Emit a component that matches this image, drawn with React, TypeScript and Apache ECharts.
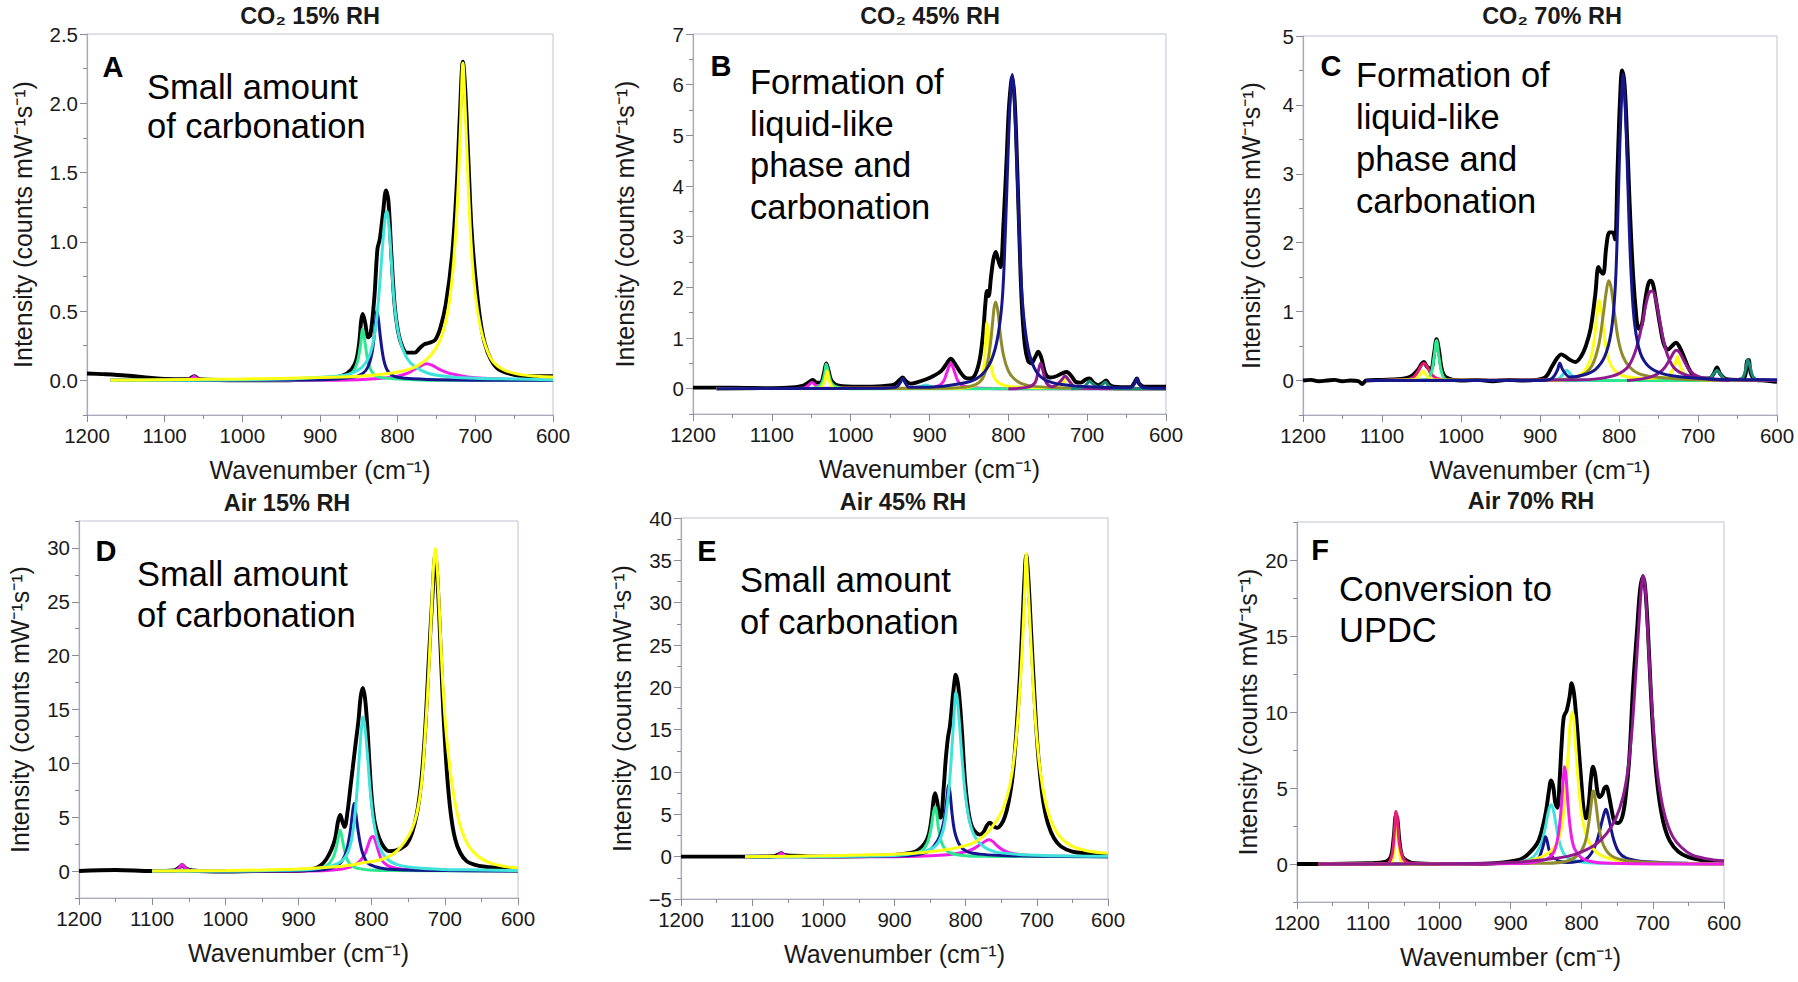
import React, { useEffect, useRef } from "react";
import * as echarts from "echarts";

const FONT = "'Liberation Sans', Arial, Helvetica, sans-serif";

// ---------- colours ----------
const COL = {
  black: "#000000",
  yellow: "#ffff14",
  cyan: "#3fe3dc",
  navy: "#16168c",
  green: "#2ee890",
  magenta: "#f01ee6",
  olive: "#8f8a2c",
  purple: "#8e1a8e",
  teal: "#1a8a78",
  red: "#e61e78",
};

// ---------- axis ticks ----------
const xMin = 600;
const xMax = 1200;
const A_yLabels = [0, 0.5, 1.0, 1.5, 2.0, 2.5];
const A_yMinor = [-0.25, 0.25, 0.75, 1.25, 1.75, 2.25];
const B_yLabels = [0, 1, 2, 3, 4, 5, 6, 7];
const B_yMinor = [-0.5, 0.5, 1.5, 2.5, 3.5, 4.5, 5.5, 6.5];
const C_yLabels = [0, 1, 2, 3, 4, 5];
const C_yMinor = [-0.5, 0.5, 1.5, 2.5, 3.5, 4.5];
const D_yLabels = [0, 5, 10, 15, 20, 25, 30];
const D_yMinor = [-2.5, 2.5, 7.5, 12.5, 17.5, 22.5, 27.5, 32.5];
const E_yLabels = [-5, 0, 5, 10, 15, 20, 25, 30, 35, 40];
const E_yMinor = [-2.5, 2.5, 7.5, 12.5, 17.5, 22.5, 27.5, 32.5, 37.5];
const F_yLabels = [0, 5, 10, 15, 20];
const F_yMinor = [-2.5, 2.5, 7.5, 12.5, 17.5, 22.5];

// ---------- Panel A : CO2 15% RH ----------
const A_black = [[1200,0.05],[1180,0.045],[1150,0.035],[1120,0.02],[1100,0.01],[1070,0.008],[1062,0.03],[1055,0.008],[1000,0.0],[950,0.0],[900,0.01],[880,0.02],[865,0.05],[855,0.12],[850,0.25],[847,0.43],[845,0.48],[842,0.42],[838,0.31],[835,0.33],[830,0.6],[826,0.95],[823,1.02],[819,1.2],[815,1.37],[812,1.3],[808,0.9],[804,0.55],[800,0.37],[795,0.26],[788,0.2],[778,0.2],[772,0.23],[766,0.26],[760,0.27],[752,0.29],[745,0.38],[738,0.55],[730,0.9],[724,1.4],[720,1.9],[716,2.3],[713,2.1],[709,1.6],[705,1.1],[700,0.75],[694,0.45],[688,0.27],[680,0.15],[670,0.08],[650,0.04],[630,0.03],[600,0.03]];
const A_magenta = [[1170,0],[1075,0],[1066,0.012],[1062,0.03],[1058,0.012],[1050,0],[900,0],[850,0.005],[820,0.015],[800,0.03],[788,0.05],[778,0.08],[770,0.105],[763,0.12],[756,0.11],[748,0.085],[738,0.06],[725,0.04],[710,0.025],[690,0.015],[660,0.008],[630,0.005],[605,0.005]];
const A_green = [[1170,0],[900,0.005],[870,0.02],[858,0.06],[852,0.13],[848,0.25],[845,0.37],[842,0.27],[838,0.13],[833,0.06],[825,0.025],[800,0.01],[750,0],[600,0]];
const A_navy = [[1170,0],[900,0.005],[860,0.02],[845,0.05],[838,0.1],[833,0.2],[830,0.33],[828,0.45],[827,0.5],[825,0.45],[822,0.3],[818,0.15],[813,0.07],[805,0.03],[790,0.015],[750,0.005],[650,0],[600,0]];
const A_cyan = [[1170,0],[950,0.01],[880,0.03],[860,0.05],[845,0.1],[835,0.2],[828,0.4],[823,0.7],[819,1.0],[816,1.18],[814,1.22],[811,1.1],[808,0.85],[805,0.6],[801,0.4],[796,0.27],[788,0.16],[778,0.1],[760,0.05],[730,0.025],[700,0.015],[650,0.01],[600,0.005]];
const A_yellow = [[1170,0],[1100,0.005],[1000,0.01],[900,0.02],[850,0.03],[820,0.045],[800,0.06],[780,0.09],[765,0.14],[752,0.22],[742,0.34],[734,0.55],[728,0.85],[723,1.3],[719,1.85],[716,2.29],[713,1.95],[709,1.4],[705,0.95],[700,0.62],[694,0.4],[687,0.25],[678,0.14],[665,0.08],[645,0.045],[620,0.03],[600,0.025]];

// ---------- Panel B : CO2 45% RH ----------
const B_black = [[1200,0.02],[1150,0.02],[1100,0.01],[1070,0.03],[1060,0.06],[1052,0.14],[1048,0.17],[1043,0.12],[1038,0.12],[1034,0.3],[1031,0.5],[1028,0.35],[1024,0.15],[1015,0.06],[990,0.04],[960,0.05],[945,0.08],[938,0.17],[934,0.22],[930,0.15],[924,0.1],[915,0.13],[905,0.18],[895,0.25],[885,0.35],[878,0.5],[873,0.59],[868,0.5],[862,0.35],[855,0.22],[848,0.2],[842,0.28],[836,0.6],[832,1.1],[829,1.7],[827,1.93],[825,1.83],[822,2.2],[819,2.55],[816,2.7],[813,2.55],[810,2.4],[806,3.3],[802,4.6],[799,5.6],[795,6.15],[792,5.7],[789,4.5],[786,3.0],[783,1.7],[779,0.85],[775,0.55],[771,0.5],[766,0.62],[762,0.73],[758,0.6],[753,0.3],[747,0.22],[740,0.24],[732,0.3],[726,0.33],[720,0.25],[714,0.13],[708,0.12],[702,0.18],[697,0.2],[692,0.12],[686,0.07],[680,0.12],[676,0.16],[672,0.08],[666,0.04],[645,0.03],[640,0.12],[637,0.2],[634,0.1],[628,0.04],[600,0.04]];
const B_magenta = [[1170,0],[1060,0.01],[1054,0.06],[1049,0.12],[1044,0.06],[1038,0.01],[900,0.01],[888,0.06],[882,0.15],[878,0.32],[875,0.45],[873,0.5],[871,0.45],[868,0.32],[864,0.15],[858,0.06],[845,0.02],[800,0],[600,0]];
const B_green = [[1170,0],[1045,0.01],[1037,0.1],[1033,0.3],[1031,0.48],[1028,0.3],[1024,0.1],[1015,0.02],[1000,0],[600,0]];
const B_cyan = [[930,0],[912,0.04],[905,0.07],[898,0.04],[885,0]];
const B_yellow = [[1170,0],[1040,0.01],[1033,0.15],[1030,0.35],[1027,0.15],[1020,0.01],[860,0.01],[845,0.05],[836,0.15],[831,0.45],[829,0.9],[827,1.31],[825,1.05],[823,0.6],[820,0.3],[815,0.15],[808,0.08],[795,0.04],[760,0.02],[735,0.05],[729,0.15],[726,0.22],[723,0.15],[716,0.04],[700,0.01],[600,0]];
const B_olive = [[1170,0],[880,0.01],[850,0.04],[835,0.15],[828,0.4],[823,0.85],[820,1.3],[818,1.6],[816,1.71],[813,1.5],[810,1.05],[806,0.65],[800,0.35],[793,0.2],[783,0.1],[770,0.05],[740,0.02],[700,0.01],[600,0]];
const B_purple = [[800,0],[775,0.03],[766,0.12],[762,0.35],[759,0.5],[756,0.35],[752,0.12],[745,0.04],[738,0.08],[732,0.18],[728,0.25],[724,0.18],[718,0.06],[710,0.01],[600,0]];
const B_teal = [[720,0],[705,0.03],[700,0.1],[697,0.15],[693,0.1],[686,0.03],[681,0.08],[677,0.13],[673,0.06],[665,0],[600,0]];
const B_navy = [[1170,0],[960,0.01],[942,0.03],[937,0.12],[934,0.2],[931,0.12],[926,0.03],[900,0.03],[860,0.1],[840,0.2],[825,0.45],[815,0.9],[808,1.7],[804,3.0],[800,4.8],[797,5.9],[795,6.2],[793,5.9],[790,4.8],[786,3.0],[782,1.7],[775,0.8],[765,0.35],[750,0.15],[720,0.06],[680,0.03],[645,0.02],[640,0.1],[637,0.2],[634,0.1],[629,0.02],[600,0.01]];

// ---------- Panel C : CO2 70% RH ----------
const C_black = [[1200,0.0],[1190,0.01],[1180,-0.01],[1170,0.0],[1160,0.01],[1150,-0.01],[1140,0.0],[1130,-0.01],[1125,-0.05],[1120,0.0],[1100,0.01],[1080,0.02],[1065,0.05],[1055,0.15],[1050,0.24],[1047,0.27],[1043,0.2],[1038,0.17],[1034,0.4],[1031,0.6],[1028,0.45],[1024,0.15],[1018,0.04],[1000,0.0],[980,0.01],[960,-0.01],[940,0.01],[920,0.0],[905,0.01],[893,0.05],[885,0.2],[878,0.33],[873,0.38],[868,0.35],[862,0.3],[855,0.27],[848,0.35],[842,0.5],[836,0.75],[830,1.25],[826,1.65],[823,1.58],[820,1.55],[816,1.95],[812,2.15],[808,2.15],[805,2.05],[802,3.0],[799,4.0],[796,4.5],[793,4.3],[790,3.6],[787,2.7],[783,1.7],[779,1.05],[775,0.75],[771,0.82],[767,1.15],[763,1.4],[760,1.45],[757,1.4],[753,1.15],[748,0.8],[743,0.52],[738,0.45],[733,0.5],[728,0.55],[724,0.5],[718,0.35],[712,0.18],[706,0.08],[698,0.04],[686,0.03],[680,0.1],[676,0.19],[672,0.1],[664,0.02],[650,0.01],[641,0.05],[638,0.28],[636,0.3],[633,0.1],[627,0.01],[615,0.0],[600,-0.02]];
const C_teal = [[1120,0],[700,0],[686,0.02],[680,0.1],[676,0.15],[672,0.1],[666,0.02],[650,0],[643,0.05],[639,0.2],[637,0.3],[634,0.2],[630,0.05],[620,0],[600,0]];
const C_red = [[1120,0],[1070,0.01],[1060,0.05],[1054,0.14],[1050,0.22],[1047,0.25],[1043,0.2],[1038,0.1],[1030,0.03],[1015,0],[600,0]];
const C_green = [[1120,0],[1045,0.01],[1038,0.1],[1034,0.35],[1031,0.58],[1028,0.35],[1024,0.1],[1018,0.01],[1000,0],[600,0]];
const C_cyan = [[900,0],[878,0.02],[870,0.1],[866,0.15],[862,0.1],[855,0.02],[840,0]];
const C_yellow = [[1120,0],[1060,0.01],[1052,0.08],[1048,0.14],[1044,0.08],[1036,0.01],[880,0],[850,0.08],[838,0.25],[832,0.55],[828,0.95],[825,1.16],[822,1.0],[818,0.6],[813,0.3],[806,0.15],[795,0.07],[770,0.03],[740,0.05],[730,0.2],[726,0.35],[722,0.2],[714,0.05],[700,0.01],[600,0]];
const C_olive = [[1120,0],[880,0.01],[850,0.06],[835,0.2],[826,0.5],[820,0.95],[816,1.3],[813,1.45],[810,1.35],[806,1.0],[801,0.6],[795,0.35],[787,0.2],[775,0.1],[755,0.05],[720,0.02],[600,0]];
const C_purple = [[1120,0],[850,0.01],[810,0.06],[790,0.18],[780,0.4],[772,0.75],[766,1.1],[762,1.27],[758,1.3],[754,1.2],[749,0.9],[744,0.6],[738,0.35],[730,0.18],[715,0.08],[690,0.03],[650,0.01],[600,0]];
const C_magenta = [[790,0],[760,0.05],[745,0.15],[736,0.3],[730,0.42],[727,0.44],[723,0.4],[717,0.27],[710,0.14],[700,0.06],[685,0.02],[660,0.0]];
const C_navy = [[1120,0],[900,0.0],[885,0.03],[878,0.15],[875,0.25],[871,0.15],[862,0.05],[845,0.08],[830,0.16],[818,0.35],[810,0.7],[805,1.3],[802,2.2],[799,3.4],[796,4.3],[795,4.45],[793,4.2],[790,3.3],[787,2.2],[784,1.4],[780,0.8],[773,0.4],[762,0.2],[745,0.1],[720,0.05],[680,0.02],[600,0.01]];

// ---------- Panel D : Air 15% RH ----------
const D_black = [[1200,0.0],[1150,0.1],[1100,0.0],[1070,0.05],[1062,0.4],[1059,0.55],[1055,0.3],[1045,0.05],[1000,-0.05],[950,0.0],[900,0.0],[880,0.2],[870,0.5],[862,1.1],[855,2.0],[850,3.0],[846,4.6],[843,5.2],[840,4.6],[837,4.1],[833,5.5],[829,7.8],[826,9.5],[822,11.8],[818,14.0],[815,16.2],[812,17.0],[809,16.0],[806,13.5],[803,10.0],[800,6.9],[796,4.6],[790,3.1],[783,2.2],[776,1.85],[768,1.9],[760,2.1],[752,2.5],[745,3.5],[738,5.4],[732,8.5],[727,13.0],[722,19.5],[717,25.5],[713,29.3],[710,27.0],[706,21.0],[702,14.7],[697,9.0],[692,5.4],[686,3.0],[679,1.7],[670,0.9],[660,0.6],[645,0.4],[620,0.25],[600,0.2]];
const D_magenta = [[1100,0],[1070,0],[1063,0.3],[1059,0.6],[1055,0.3],[1045,0],[900,0],[840,0.2],[820,0.7],[810,1.5],[805,2.4],[801,3.1],[798,3.2],[795,2.8],[791,1.9],[786,1.0],[778,0.5],[765,0.25],[740,0.1],[700,0.05],[600,0.0]];
const D_green = [[1100,0],[880,0.1],[862,0.5],[853,1.2],[848,2.3],[845,3.3],[843,3.8],[841,3.3],[838,2.2],[833,1.0],[825,0.4],[810,0.15],[780,0.05],[600,0]];
const D_navy = [[1100,0],[880,0.05],[850,0.4],[840,1.0],[834,2.0],[829,3.8],[826,5.5],[824,6.3],[822,5.5],[818,3.5],[813,1.8],[806,0.8],[795,0.4],[780,0.2],[750,0.1],[700,0.05],[600,0]];
const D_cyan = [[1100,0],[900,0.1],[860,0.4],[840,1.0],[830,2.2],[824,4.5],[820,7.5],[816,11.5],[813,14.0],[812,14.3],[810,13.8],[806,11.0],[802,7.5],[797,4.5],[790,2.4],[780,1.2],[765,0.6],[740,0.3],[700,0.15],[650,0.1],[600,0.05]];
const D_yellow = [[1100,0],[1000,0.05],[950,0.1],[900,0.2],[870,0.3],[850,0.4],[830,0.55],[810,0.8],[790,1.0],[775,1.4],[765,1.9],[755,2.7],[745,3.9],[738,5.4],[732,8.0],[727,12.5],[722,18.5],[718,24.5],[715,28.8],[713,30.0],[711,28.8],[708,25.0],[704,19.0],[699,13.5],[693,9.5],[686,6.3],[678,4.0],[668,2.4],[655,1.4],[640,0.8],[620,0.45],[600,0.3]];

// ---------- Panel E : Air 45% RH ----------
const E_black = [[1200,0],[1150,0],[1110,0],[1070,0.05],[1062,0.3],[1059,0.4],[1055,0.2],[1045,0.1],[1000,0.0],[950,0.05],[900,0.2],[880,0.4],[868,0.7],[858,1.5],[852,2.6],[848,4.5],[845,6.8],[843,7.5],[840,6.5],[837,4.7],[835,4.6],[831,8.0],[828,11.5],[825,14.0],[822,15.5],[818,19.0],[815,21.2],[814,21.5],[811,20.5],[808,18.0],[805,14.5],[801,9.1],[796,5.3],[791,3.5],[785,2.8],[780,2.6],[775,2.9],[770,3.7],[766,4.0],[761,3.6],[756,3.4],[750,3.8],[745,4.7],[740,6.3],[734,9.5],[729,14.5],[724,21.0],[720,28.0],[717,33.5],[715,35.6],[712,33.0],[708,26.5],[704,20.0],[699,13.0],[694,8.5],[690,6.0],[684,3.8],[676,2.2],[666,1.2],[650,0.6],[630,0.4],[600,0.25]];
const E_magenta = [[1110,0],[1066,0],[1062,0.25],[1059,0.4],[1056,0.25],[1050,0],[900,0],[830,0.2],[805,0.5],[790,0.9],[780,1.4],[772,1.85],[767,2.0],[762,1.8],[756,1.3],[748,0.8],[738,0.45],[720,0.2],[690,0.08],[650,0.03],[600,0]];
const E_green = [[1110,0],[880,0.2],[862,0.7],[854,1.6],[849,3.2],[845,5.3],[843,5.9],[841,5.3],[838,3.2],[833,1.5],[825,0.6],[810,0.2],[780,0.05],[600,0]];
const E_navy = [[1110,0],[880,0.1],[855,0.5],[845,1.2],[836,2.5],[830,4.5],[826,7.2],[824,8.5],[822,7.6],[819,5.0],[815,2.8],[808,1.3],[798,0.6],[780,0.3],[750,0.15],[700,0.05],[600,0]];
const E_cyan = [[1110,0],[900,0.15],[860,0.6],[842,1.3],[832,3.0],[826,6.0],[822,9.5],[818,14.5],[815,18.5],[814,19.4],[812,18.8],[809,16.0],[805,11.5],[800,7.0],[794,4.0],[786,2.2],[775,1.2],[760,0.6],[730,0.3],[690,0.15],[600,0.05]];
const E_yellow = [[1110,0],[1000,0.1],[950,0.2],[900,0.3],[860,0.5],[830,0.8],[810,1.1],[790,1.6],[775,2.4],[762,3.6],[750,5.2],[742,7.0],[735,9.8],[729,14.0],[724,19.5],[720,25.5],[717,31.5],[715,35.8],[713,33.0],[710,28.0],[706,21.5],[701,15.0],[695,10.0],[688,6.5],[680,4.2],[668,2.4],[652,1.3],[630,0.7],[600,0.4]];

// ---------- Panel F : Air 70% RH ----------
const F_black = [[1200,0],[1180,0.0],[1170,0.0],[1100,0.05],[1075,0.15],[1068,0.5],[1064,1.8],[1061,3.2],[1059,3.0],[1056,1.5],[1052,0.5],[1045,0.2],[1035,0.05],[1000,0.0],[950,0.0],[910,0.1],[890,0.25],[882,0.4],[872,0.8],[862,1.4],[856,2.2],[850,3.5],[846,4.8],[843,5.5],[840,5.1],[837,4.0],[834,3.7],[831,5.5],[828,8.0],[825,9.7],[821,10.1],[817,11.0],[814,11.9],[811,11.3],[808,9.9],[804,7.5],[800,5.1],[797,3.5],[794,3.0],[790,4.0],[787,5.6],[784,6.4],[781,5.9],[778,4.8],[775,4.4],[771,4.6],[768,5.0],[765,5.1],[762,4.6],[758,3.6],[754,2.8],[749,2.7],[743,3.1],[738,4.5],[733,7.0],[728,11.5],[722,15.5],[718,18.0],[714,18.9],[711,18.3],[707,15.5],[703,11.5],[698,7.5],[692,4.6],[685,2.7],[676,1.5],[664,0.8],[650,0.45],[630,0.25],[600,0.15]];
const F_yellow = [[1170,0],[1070,0],[1064,0.8],[1061,2.6],[1059,2.5],[1056,0.8],[1050,0],[900,0.05],[860,0.4],[840,1.0],[830,2.0],[824,4.0],[819,7.2],[816,9.3],[813,10.0],[811,9.5],[808,7.5],[804,5.0],[799,3.0],[792,1.7],[782,0.9],[770,0.5],[750,0.25],[720,0.1],[680,0.05],[600,0]];
const F_red = [[1170,0],[1075,0],[1067,0.5],[1063,2.2],[1061,3.45],[1059,3.0],[1056,1.3],[1050,0.3],[1040,0.05],[1000,0]];
const F_cyan = [[1170,0],[900,0.05],[870,0.4],[858,1.2],[851,2.4],[847,3.4],[843,3.9],[840,3.6],[836,2.6],[831,1.4],[824,0.6],[812,0.25],[795,0.1],[760,0.05],[600,0]];
const F_magenta = [[1000,0],[880,0.05],[850,0.3],[840,0.7],[834,1.6],[830,3.0],[827,4.8],[825,6.1],[824,6.4],[822,5.8],[819,3.8],[815,2.0],[810,1.0],[800,0.4],[785,0.15],[760,0.05],[700,0],[600,0]];
const F_olive = [[1170,0],[850,0.05],[820,0.2],[805,0.6],[796,1.3],[791,2.4],[787,3.8],[785,4.6],[784,4.8],[782,4.6],[779,3.6],[775,2.2],[769,1.2],[760,0.6],[745,0.3],[720,0.15],[680,0.05],[600,0]];
const F_navy = [[1170,0],[880,0.05],[862,0.3],[856,0.9],[852,1.6],[851,1.8],[849,1.6],[845,0.8],[840,0.4],[836,0.35],[833,0.2],[820,0.1],[795,0.3],[785,0.8],[778,1.6],[772,2.7],[768,3.4],[766,3.6],[764,3.4],[760,2.6],[755,1.6],[748,0.8],[738,0.4],[720,0.2],[690,0.1],[650,0.05],[600,0.03]];
const F_purple = [[1170,0],[1000,0.02],[900,0.1],[850,0.3],[820,0.5],[800,0.8],[780,1.3],[765,2.0],[752,3.0],[742,4.4],[735,6.2],[729,9.0],[724,12.5],[720,15.5],[716,18.3],[714,19.0],[711,18.3],[708,16.0],[704,12.5],[700,9.5],[695,6.6],[689,4.5],[682,3.0],[672,1.8],[660,1.1],[645,0.6],[625,0.35],[600,0.2]];

type Curve = [number[][], string];

interface Panel {
  title: string;
  letter: string;
  note: string;
  grid: { left: number; top: number; width: number; height: number };
  yMin: number;
  yMax: number;
  yLabels: number[];
  yMinor: number[];
  decimals: number;
  yNameGap: number;
  titlePos: [number, number];
  letterPos: [number, number];
  notePos: [number, number];
  noteSize: number;
  noteLH: number;
  curves: Curve[];
}

const panels: Panel[] = [
  {
    title: "CO\u2082 15% RH", letter: "A", note: "Small amount\nof carbonation",
    grid: { left: 87, top: 34, width: 466, height: 381 },
    yMin: -0.25, yMax: 2.5, yLabels: A_yLabels, yMinor: A_yMinor, decimals: 1, yNameGap: 52,
    titlePos: [310, 16], letterPos: [113, 67], notePos: [147, 67], noteSize: 34.5, noteLH: 39.5,
    curves: [[A_black, COL.black], [A_magenta, COL.magenta], [A_green, COL.green], [A_navy, COL.navy], [A_cyan, COL.cyan], [A_yellow, COL.yellow]],
  },
  {
    title: "CO\u2082 45% RH", letter: "B", note: "Formation of\nliquid-like\nphase and\ncarbonation",
    grid: { left: 693, top: 34, width: 473, height: 380 },
    yMin: -0.5, yMax: 7, yLabels: B_yLabels, yMinor: B_yMinor, decimals: 0, yNameGap: 56,
    titlePos: [930, 16], letterPos: [721, 66], notePos: [750, 61], noteSize: 34.5, noteLH: 41.7,
    curves: [[B_black, COL.black], [B_magenta, COL.magenta], [B_green, COL.green], [B_cyan, COL.cyan], [B_yellow, COL.yellow], [B_olive, COL.olive], [B_purple, COL.purple], [B_teal, COL.teal], [B_navy, COL.navy]],
  },
  {
    title: "CO\u2082 70% RH", letter: "C", note: "Formation of\nliquid-like\nphase and\ncarbonation",
    grid: { left: 1303, top: 36, width: 474, height: 379 },
    yMin: -0.5, yMax: 5, yLabels: C_yLabels, yMinor: C_yMinor, decimals: 0, yNameGap: 40,
    titlePos: [1552, 16], letterPos: [1331, 66], notePos: [1356, 54], noteSize: 34.5, noteLH: 42,
    curves: [[C_black, COL.black], [C_teal, COL.teal], [C_red, COL.red], [C_green, COL.green], [C_cyan, COL.cyan], [C_yellow, COL.yellow], [C_olive, COL.olive], [C_purple, COL.purple], [C_magenta, COL.purple], [C_navy, COL.navy]],
  },
  {
    title: "Air 15% RH", letter: "D", note: "Small amount\nof carbonation",
    grid: { left: 79, top: 521, width: 439, height: 377 },
    yMin: -2.5, yMax: 32.5, yLabels: D_yLabels, yMinor: D_yMinor, decimals: 0, yNameGap: 47,
    titlePos: [287, 503], letterPos: [106, 551], notePos: [137, 553], noteSize: 34.5, noteLH: 41,
    curves: [[D_black, COL.black], [D_magenta, COL.magenta], [D_green, COL.green], [D_navy, COL.navy], [D_cyan, COL.cyan], [D_yellow, COL.yellow]],
  },
  {
    title: "Air 45% RH", letter: "E", note: "Small amount\nof carbonation",
    grid: { left: 681, top: 518, width: 427, height: 381 },
    yMin: -5, yMax: 40, yLabels: E_yLabels, yMinor: E_yMinor, decimals: 0, yNameGap: 47,
    titlePos: [903, 502], letterPos: [707, 551], notePos: [740, 559], noteSize: 34.5, noteLH: 42,
    curves: [[E_black, COL.black], [E_magenta, COL.magenta], [E_green, COL.green], [E_navy, COL.navy], [E_cyan, COL.cyan], [E_yellow, COL.yellow]],
  },
  {
    title: "Air 70% RH", letter: "F", note: "Conversion to\nUPDC",
    grid: { left: 1297, top: 522, width: 427, height: 380 },
    yMin: -2.5, yMax: 22.5, yLabels: F_yLabels, yMinor: F_yMinor, decimals: 0, yNameGap: 37,
    titlePos: [1531, 501], letterPos: [1320, 550], notePos: [1339, 568], noteSize: 34.5, noteLH: 41,
    curves: [[F_black, COL.black], [F_cyan, COL.cyan], [F_navy, COL.navy], [F_yellow, COL.yellow], [F_olive, COL.olive], [F_magenta, COL.magenta], [F_red, COL.red], [F_purple, COL.purple]],
  },
];

const AXIS_COLOR = "#a9a9bb";
const TEXT_COLOR = "#1a1a1a";

function buildOption() {
  const grid: any[] = [];
  const xAxis: any[] = [];
  const yAxis: any[] = [];
  const series: any[] = [];
  const graphic: any[] = [];

  panels.forEach((p, i) => {
    grid.push({ ...p.grid, show: true, borderColor: "#c2c2d2", borderWidth: 1, containLabel: false });
    xAxis.push({
      type: "value", gridIndex: i, min: xMin, max: xMax, interval: 100, inverse: true,
      name: "Wavenumber (cm\u207B\u00B9)", nameLocation: "middle", nameGap: 42,
      nameTextStyle: { fontFamily: FONT, fontSize: 25, color: TEXT_COLOR },
      axisLine: { onZero: false, lineStyle: { color: AXIS_COLOR, width: 1.2 } },
      axisTick: { show: true, inside: false, length: 7, lineStyle: { color: "#8a8a9a" } },
      minorTick: { show: true, splitNumber: 2, length: 4, lineStyle: { color: "#8a8a9a" } },
      splitLine: { show: false },
      axisLabel: { fontFamily: FONT, fontSize: 20.5, color: TEXT_COLOR, margin: 10, formatter: (v: number) => String(v) },
    });
    const dec = p.decimals;
    yAxis.push({
      type: "value", gridIndex: i, min: p.yMin, max: p.yMax, position: "left",
      name: "Intensity (counts mW\u207B\u00B9s\u207B\u00B9)", nameLocation: "middle", nameGap: p.yNameGap,
      nameTextStyle: { fontFamily: FONT, fontSize: 25, color: TEXT_COLOR },
      axisLine: { show: true, onZero: false, lineStyle: { color: AXIS_COLOR, width: 1.2 } },
      axisTick: { show: true, length: 7, customValues: p.yLabels, lineStyle: { color: "#8a8a9a" } },
      splitLine: { show: false },
      axisLabel: {
        fontFamily: FONT, fontSize: 20.5, color: TEXT_COLOR, margin: 9,
        customValues: p.yLabels,
        formatter: (v: number) => (v < 0 ? "\u2212" + Math.abs(v).toFixed(dec) : v.toFixed(dec)),
      },
    });
    yAxis.push({
      type: "value", gridIndex: i, min: p.yMin, max: p.yMax, position: "left",
      axisLine: { show: false, onZero: false },
      axisTick: { show: true, length: 4, customValues: p.yMinor, lineStyle: { color: "#8a8a9a" } },
      axisLabel: { show: false },
      splitLine: { show: false },
    });
    p.curves.forEach(([data, color]) => {
      const isTotal = color === COL.black;
      series.push({
        type: "line", xAxisIndex: i, yAxisIndex: i * 2, data,
        showSymbol: false, symbol: "none", smooth: 0.35,
        lineStyle: { color, width: isTotal ? 3.9 : 3.0 },
        itemStyle: { color },
        z: 2,
      });
    });
    graphic.push({
      type: "text", x: p.titlePos[0], y: p.titlePos[1],
      style: { text: p.title, fontFamily: FONT, fontSize: 23.5, fontWeight: "bold", fill: TEXT_COLOR, textAlign: "center", textVerticalAlign: "middle" },
    });
    graphic.push({
      type: "text", x: p.letterPos[0], y: p.letterPos[1],
      style: { text: p.letter, fontFamily: FONT, fontSize: 29, fontWeight: "bold", fill: "#000", textAlign: "center", textVerticalAlign: "middle" },
    });
    graphic.push({
      type: "text", x: p.notePos[0], y: p.notePos[1],
      style: { text: p.note, fontFamily: FONT, fontSize: p.noteSize, lineHeight: p.noteLH, fill: "#000", textAlign: "left", textVerticalAlign: "top" },
    });
  });

  return { animation: false, backgroundColor: "#ffffff", grid, xAxis, yAxis, series, graphic };
}

export default function App() {
  const ref = useRef<HTMLDivElement>(null);
  useEffect(() => {
    if (!ref.current) return;
    const chart = echarts.init(ref.current, undefined, { renderer: "svg" });
    chart.setOption(buildOption() as any);
    return () => chart.dispose();
  }, []);
  return (
    <div
      ref={ref}
      style={{ position: "fixed", left: 0, top: 0, width: 1798, height: 982, background: "#fff" }}
    />
  );
}
